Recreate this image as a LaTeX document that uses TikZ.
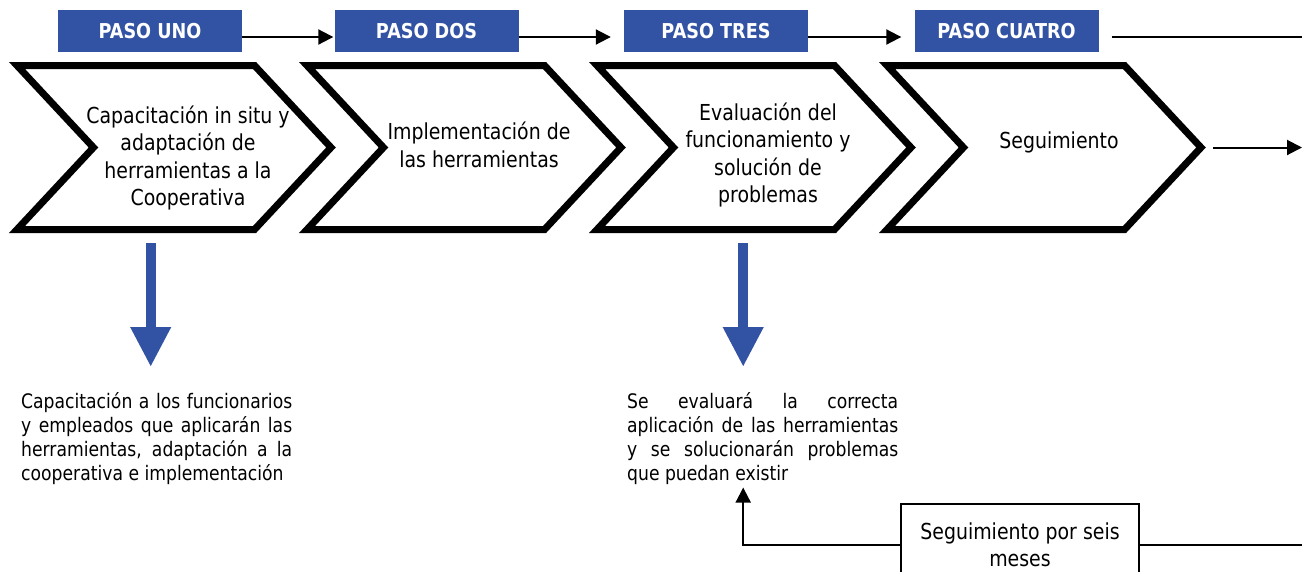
\documentclass[tikz,border=0pt]{standalone}
\usepackage{fontspec}
\setmainfont{DejaVu Sans}[FakeStretch=0.86]
\usetikzlibrary{positioning,arrows.meta,shapes.symbols}
\definecolor{pasoblue}{RGB}{50,83,163}

\begin{document}
\begin{tikzpicture}[x=1pt, y=-1pt,
    paso/.style={fill=pasoblue, text=white, font=\fontsize{20.5}{24}\selectfont\bfseries, minimum width=184pt, minimum height=42pt, inner sep=0pt},
    chevron/.style={draw, line width=7pt, signal, signal to=east, signal from=west, signal pointer angle=94, minimum width=314pt, minimum height=164pt, inner sep=0pt, outer sep=0pt},
    steptext/.style={align=center, font=\fontsize{22}{27.5}\selectfont, inner sep=0pt},
    note/.style={text width=271pt, align=justify, font=\fontsize{20}{24}\selectfont, inner sep=0pt},
    flow/.style={line width=2pt, -{Triangle[length=15pt,width=15pt]}},
    downarrow/.style={draw=pasoblue, line width=10pt, -{Triangle[length=40pt,width=38pt]}}]
    \useasboundingbox (0,0) rectangle (1302,571);

    % pasos
    \node [paso] (p1) at (150,31) {PASO UNO};
    \node [paso] (p2) at (426.5,31) {PASO DOS};
    \node [paso] (p3) at (716,31) {PASO TRES};
    \node [paso] (p4) at (1006.5,31) {PASO CUATRO};

    % chevrons
    \node [chevron] (c1) at (174,147.5) {};
    \node [chevron] (c2) at (464,147.5) {};
    \node [chevron] (c3) at (754,147.5) {};
    \node [chevron] (c4) at (1044,147.5) {};

    \node [steptext] (t1) at ([xshift=14pt,yshift=-10.5pt]c1.center) {Capacitación in situ y\\adaptación de\\herramientas a la\\Cooperativa};
    \node [steptext] (t2) at ([xshift=15pt,yshift=2.5pt]c2.center) {Implementación de\\las herramientas};
    \node [steptext] (t3) at ([xshift=14pt,yshift=-7.5pt]c3.center) {Evaluación del\\funcionamiento y\\solución de\\problemas};
    \node [steptext] (t4) at ([xshift=15pt,yshift=5.5pt]c4.center) {Seguimiento};

    % notes
    \node [note, anchor=north west] (d1) at (21,392) {Capacitación a los funcionarios\linebreak y empleados que aplicarán las\linebreak herramientas, adaptación a la\linebreak cooperativa e implementación};
    \node [note, anchor=north west] (d2) at (627,392) {Se evaluará la correcta\linebreak aplicación de las herramientas\linebreak y se solucionarán problemas\linebreak que puedan existir};

    \node [draw, line width=1.5pt, minimum width=238pt, minimum height=82pt, steptext] (seg) at (1020,545) {Seguimiento por seis\\meses};

    \coordinate (a1) at ([xshift=-6pt]d1.north);
    \coordinate (a2) at ([xshift=-19.5pt]d2.north);
    \coordinate (back) at ([xshift=-19.5pt,yshift=-3pt]d2.south);
    \coordinate (edge1) at (1302,37);
    \coordinate (edge2) at (1302,147.5);
    \coordinate (edge3) at (1302,545);

    \draw[flow, shorten >=1pt] ([yshift=-6pt]p1.east) -- ([yshift=-6pt]p2.west);
    \draw[flow, shorten >=13pt] ([yshift=-6pt]p2.east) -- ([yshift=-6pt]p3.west);
    \draw[flow, shorten >=13pt] ([yshift=-6pt]p3.east) -- ([yshift=-6pt]p4.west);
    \draw[line width=2pt, shorten <=13pt] ([yshift=-6pt]p4.east) -- (edge1);
    \draw[flow, shorten <=12pt] (c4.east) -- (edge2);

    \draw[downarrow, shorten <=13.5pt, shorten >=25pt] (a1 |- c1.south) -- (a1);
    \draw[downarrow, shorten <=13.5pt, shorten >=25pt] (a2 |- c3.south) -- (a2);

    \draw[flow] (seg.west) -| (back);
    \draw[line width=2pt] (seg.east) -- (edge3);

\end{tikzpicture}
\end{document}
